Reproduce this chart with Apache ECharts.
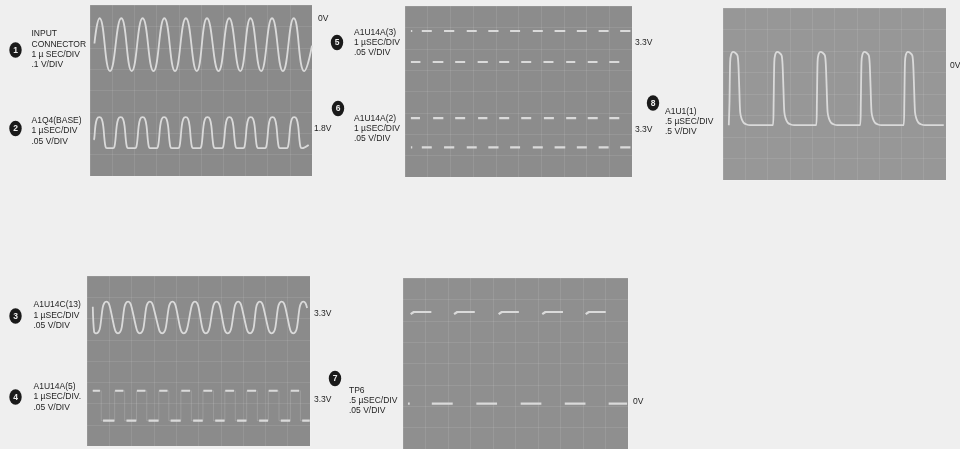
<!DOCTYPE html>
<html><head><meta charset="utf-8">
<script src="https://cdn.jsdelivr.net/npm/echarts@6/dist/echarts.min.js"></script>
<style>html,body{margin:0;padding:0;background:#efefef}#c{width:960px;height:449px}</style>
</head><body><div id="c"></div>
<script>
// ===== Data (units: scope divisions, x 0..10, y 0..8) =====
// 1: INPUT CONNECTOR (sine)
const w1Peaks   = [0.43,1.41,2.37,3.35,4.32,5.27,6.27,7.23,8.20,9.18];
const w1Troughs = [0.90,1.88,2.86,3.83,4.81,5.79,6.77,7.71,8.69,9.65];
const w1High = 7.38, w1Low = 4.91;
const w1Ends = [[0.20,6.20],[10.0,6.10]];
// 2: A1Q4(BASE) (rounded humps)
const w2Humps = [0.42,1.38,2.37,3.34,4.31,5.29,6.28,7.24,8.22,9.20];
const w2High = 2.75, w2Low = 1.30;
// 3: A1U14C(13) (rounded square)
const w3Tops    = [0.87,1.84,2.82,3.83,4.84,5.81,6.78,7.75,8.73,9.70];
const w3Bottoms = [0.42,1.39,2.37,3.37,4.34,5.33,6.31,7.31,8.28,9.25];
const w3High = 6.79, w3Low = 5.30;
// 4: A1U14A(5) (square)
const w4Rise = [1.24,2.22,3.22,4.21,5.20,6.18,7.16,8.13,9.12];
const w4Fall = [0.64,1.69,2.68,3.67,4.68,5.67,6.65,7.64,8.61,9.57];
const w4High = 2.60, w4Low = 1.19, w4Start = 0.24, w4End = 10.0;
// 5: A1U14A(3) (visible flats only)
const w5HighDashes = [[0.26,0.32],[0.74,1.18],[1.72,2.17],[2.72,3.16],[3.67,4.12],[4.63,5.07],[5.63,6.07],[6.59,7.06],[7.57,8.01],[8.53,8.97],[9.48,9.93]];
const w5LowDashes  = [[0.26,0.68],[1.22,1.69],[2.21,2.65],[3.20,3.65],[4.15,4.59],[5.12,5.56],[6.10,6.54],[7.10,7.50],[8.05,8.48],[9.00,9.44]];
const w5High = 6.83, w5Low = 5.38;
// 6: A1U14A(2)
const w6HighDashes = [[0.26,0.66],[1.24,1.69],[2.21,2.65],[3.22,3.63],[4.15,4.59],[5.12,5.56],[6.12,6.56],[7.10,7.54],[8.05,8.49],[9.00,9.44]];
const w6LowDashes  = [[0.26,0.32],[0.74,1.18],[1.72,2.17],[2.72,3.16],[3.67,4.12],[4.63,5.07],[5.63,6.07],[6.59,7.06],[7.57,8.01],[8.53,8.97],[9.48,9.93]];
const w6High = 2.75, w6Low = 1.39;
// 7: TP6
const w7HighDashes = [[0.34,1.26],[2.27,3.19],[4.25,5.15],[6.19,7.11],[8.12,9.01]];
const w7LowDashes  = [[0.22,0.30],[1.28,2.21],[3.26,4.18],[5.23,6.15],[7.19,8.11],[9.14,9.96]];
const w7High = 6.41, w7Low = 2.12;
// 8: A1U1(1) (pulses)
const w8Rise = [0.26,2.24,4.18,6.15,8.10];
const w8High = 5.96, w8Low = 2.55, w8End = 9.90;

// ===== build traces =====
const TRACE = '#dadada';
function sineTrace(){
  const ex = [];
  w1Peaks.forEach(x=>ex.push([x,w1High]));
  w1Troughs.forEach(x=>ex.push([x,w1Low]));
  ex.push(w1Ends[0], w1Ends[1]);
  return ex.sort((a,b)=>a[0]-b[0]);
}
function humpTrace(){
  const H=w2High, L=w2Low, pts=[[0.16,1.70]];
  const shape=[[-0.36,0],[-0.28,0.05],[-0.23,0.30],[-0.18,0.70],[-0.11,0.94],[0,1],[0.11,0.94],[0.18,0.70],[0.23,0.30],[0.28,0.05],[0.36,0]];
  w2Humps.forEach(c=>shape.forEach(([dx,f])=>{ if(c+dx>0.15) pts.push([c+dx, L+(H-L)*f]); }));
  pts.push([9.85,1.45]);
  return pts;
}
function roundSquareTrace(){
  const ex=[];
  w3Tops.forEach(x=>ex.push([x,w3High,w3Low]));
  w3Bottoms.forEach(x=>ex.push([x,w3Low,w3High]));
  ex.sort((a,b)=>a[0]-b[0]);
  const pts=[[0.26,6.55]];
  const shape=[[-0.17,0.2],[-0.10,0.05],[0,0],[0.10,0.05],[0.17,0.2]];
  ex.forEach(([c,lv,ov])=>shape.forEach(([dx,f])=>{ if(c+dx>0.27 && c+dx<9.95) pts.push([c+dx, lv+(ov-lv)*f]); }));
  return pts;
}
function squareTrace(){
  const pts=[[w4Start,w4High]];
  const ev=[];
  w4Fall.forEach(x=>ev.push([x,w4High,w4Low]));
  w4Rise.forEach(x=>ev.push([x,w4Low,w4High]));
  ev.sort((a,b)=>a[0]-b[0]);
  ev.forEach(([x,a,b])=>{pts.push([x,a]);pts.push([x,b]);});
  pts.push([w4End,w4Low]);
  return pts;
}
function squareFlats(){
  const segs=[];
  const ev=[[w4Start,'r']];
  w4Fall.forEach(x=>ev.push([x,'f']));
  w4Rise.forEach(x=>ev.push([x,'r']));
  ev.push([w4End,'e']);
  ev.sort((a,b)=>a[0]-b[0]);
  for(let i=0;i<ev.length-1;i++){
    const [x,t]=ev[i], nx=ev[i+1][0];
    if(t==='r') segs.push([[x+0.02,w4High],[nx-0.06,w4High]]);
    else segs.push([[x+0.08,w4Low],[nx-0.01,w4Low]]);
  }
  return joinSegs(segs);
}
function joinSegs(segs){
  const out=[];
  segs.forEach((s,i)=>{ if(i) out.push([s[0][0]-0.001,'-']); s.forEach(p=>out.push(p)); });
  return out;
}
function dashes(list,level,curl){
  return joinSegs(list.map(([a,b])=> curl && b-a>0.2
    ? [[a,level-0.1],[a+0.06,level-0.03],[a+0.14,level],[b,level]]
    : [[a,level],[b,level]]));
}
function pulseTrace(){
  const H=w8High,L=w8Low,pts=[];
  const shape=[[0,0],[0.03,0.3],[0.06,0.86],[0.10,0.96],[0.19,1],[0.30,0.985],[0.39,0.95],[0.43,0.83],[0.47,0.5],[0.51,0.18],[0.57,0.09],[0.66,0.035],[0.80,0.009],[0.95,0]];
  w8Rise.forEach(r=>shape.forEach(([dx,f])=>pts.push([r+dx, L+(H-L)*f])));
  pts.push([w8End,L]);
  return pts;
}

// ===== layout =====
const panels = [
  {left:90,  top:5,   width:222, height:171, bg:'#8a8a8a'},  // A: 1,2
  {left:405, top:6,   width:227, height:171, bg:'#8c8c8c'},  // B: 5,6
  {left:723, top:8,   width:223, height:172, bg:'#979797'},  // C: 8
  {left:87,  top:276, width:223, height:170, bg:'#8b8b8b'},  // D: 3,4
  {left:403, top:278, width:225, height:171, bg:'#8f8f8f'}   // E: 7
];
const grid = panels.map(p=>({left:p.left,top:p.top,width:p.width,height:p.height,show:true,backgroundColor:p.bg,borderWidth:0}));
const gl = {show:true,lineStyle:{color:'rgba(255,255,255,0.09)',width:1}};
const xAxis = panels.map((p,i)=>({type:'value',gridIndex:i,min:0,max:10,interval:1,axisLine:{show:false},axisTick:{show:false},axisLabel:{show:false},splitLine:gl}));
const yAxis = panels.map((p,i)=>({type:'value',gridIndex:i,min:0,max:8,interval:1,axisLine:{show:false},axisTick:{show:false},axisLabel:{show:false},splitLine:gl}));

function line(gi,data,opt){
  return Object.assign({type:'line',xAxisIndex:gi,yAxisIndex:gi,data:data,symbol:'none',silent:true,animation:false,
    connectNulls:false,lineStyle:{color:TRACE,width:1.8}},opt||{});
}
const DASH = {lineStyle:{color:TRACE,width:2.2}};
const series = [
  line(0,sineTrace(),{smooth:0.5}),
  line(0,humpTrace(),{smooth:0.3}),
  line(1,dashes(w5HighDashes,w5High),DASH),
  line(1,dashes(w5LowDashes,w5Low),DASH),
  line(1,dashes(w6HighDashes,w6High),DASH),
  line(1,dashes(w6LowDashes,w6Low),DASH),
  line(2,pulseTrace(),{smooth:0.25}),
  line(3,roundSquareTrace(),{smooth:0.3}),
  line(3,squareTrace(),{lineStyle:{color:'rgba(225,225,225,0.2)',width:1}}),
  line(3,squareFlats(),DASH),
  line(4,dashes(w7HighDashes,w7High,true),DASH),
  line(4,dashes(w7LowDashes,w7Low),DASH)
];

// ===== labels =====
const FONT = '"Liberation Sans", Arial, Helvetica, sans-serif';
const TXT = '#1e1e1e';
const groups = [
  {n:'1', cx:15.5, cy:50,  tx:31.5, lines:['INPUT','CONNECTOR','1 µ SEC/DIV','.1 V/DIV'], ty:[34,44.3,54.5,64.7]},
  {n:'2', cx:15.5, cy:128.5, tx:31.5, lines:['A1Q4(BASE)','1 µSEC/DIV','.05 V/DIV'], ty:[120.5,131,141.5]},
  {n:'5', cx:337,  cy:42.5, tx:354, lines:['A1U14A(3)','1 µSEC/DIV','.05 V/DIV'], ty:[32.5,42.5,52.5]},
  {n:'6', cx:338,  cy:108.5, tx:354, lines:['A1U14A(2)','1 µSEC/DIV','.05 V/DIV'], ty:[118.5,128.5,138.5]},
  {n:'8', cx:653,  cy:103, tx:665, lines:['A1U1(1)','.5 µSEC/DIV','.5 V/DIV'], ty:[111.7,121.7,131.7]},
  {n:'3', cx:15.5, cy:316, tx:33.5, lines:['A1U14C(13)','1 µSEC/DIV','.05 V/DIV'], ty:[305,315.5,326]},
  {n:'4', cx:15.5, cy:397, tx:33.5, lines:['A1U14A(5)','1 µSEC/DIV.','.05 V/DIV'], ty:[386.5,397,407.5]},
  {n:'7', cx:335,  cy:378.5, tx:349, lines:['TP6','.5 µSEC/DIV','.05 V/DIV'], ty:[391,401,411]}
];
const refs = [['0V',318,19],['1.8V',314,129],['3.3V',635,43],['3.3V',635,129.5],['0V',950,66],['3.3V',314,313.5],['3.3V',314,400],['0V',633,401.5]];
const graphic = [];
groups.forEach(g=>{
  graphic.push({type:'circle',x:g.cx,y:g.cy,scaleY:1.25,shape:{cx:0,cy:0,r:6.2},style:{fill:'#1a1a1a'},silent:true});
  graphic.push({type:'text',x:g.cx,y:g.cy+0.5,style:{text:g.n,fill:'#eeeeee',font:'bold 8.5px '+FONT,align:'center',verticalAlign:'middle'},silent:true});
  g.lines.forEach((t,i)=>graphic.push({type:'text',x:g.tx,y:g.ty[i],style:{text:t,fill:TXT,font:'8.5px '+FONT,align:'left',verticalAlign:'middle'},silent:true}));
});
refs.forEach(([t,x,y])=>graphic.push({type:'text',x:x,y:y,style:{text:t,fill:TXT,font:'8.5px '+FONT,align:'left',verticalAlign:'middle'},silent:true}));

const chart = echarts.init(document.getElementById('c'),null,{renderer:'canvas'});
chart.setOption({backgroundColor:'#efefef',animation:false,grid,xAxis,yAxis,series,graphic});
</script></body></html>
